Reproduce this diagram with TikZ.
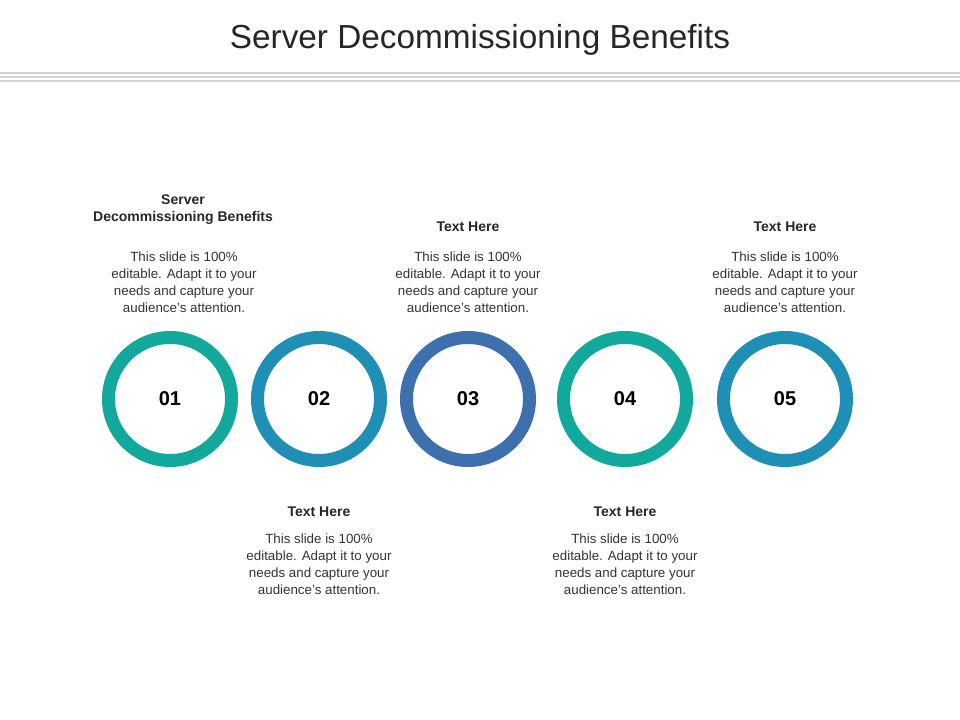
\documentclass[tikz,border=0pt]{standalone}
\usepackage{fontspec}
\setmainfont{Liberation Sans}
\begin{document}
\begin{tikzpicture}[x=0.75pt,y=-0.75pt,
 ring/.style={draw=#1,line width=9.75pt,circle,minimum size=123*0.75pt,inner sep=0pt,font=\fontsize{15}{18}\selectfont\bfseries},
 head/.style={font=\fontsize{10.5}{14}\selectfont\bfseries,text=black!85,align=center,anchor=base},
 body/.style={font=\fontsize{10}{12.75}\selectfont,text=black!80,align=center,anchor=north}]
\useasboundingbox (0,0) rectangle (960,720);
\node[font=\fontsize{25}{30}\selectfont,text=black!85,anchor=base] (title) at (480,49) {Server Decommissioning Benefits};
\foreach \yy in {73,77,81}{\draw[black!17,line width=1.6pt] (0,\yy) -- (960,\yy);}
\definecolor{cA}{HTML}{12A89B}\definecolor{cB}{HTML}{1F8FB5}\definecolor{cC}{HTML}{3F70AE}
\node[ring=cA] (c1) at (170,399) {01};
\node[ring=cB] (c2) at (319,399) {02};
\node[ring=cC] (c3) at (468,399) {03};
\node[ring=cA] (c4) at (625,399) {04};
\node[ring=cB] (c5) at (785,399) {05};
\node[head] (h1) at (183,222) {Server\\[-1pt]Decommissioning Benefits};
\node[body] (b1) at (184,247) {This slide is 100\%\\editable. Adapt it to your\\needs and capture your\\audience's attention.};
\node[head] (h3) at (468,232) {Text Here};
\node[body] (b3) at (468,247) {This slide is 100\%\\editable. Adapt it to your\\needs and capture your\\audience's attention.};
\node[head] (h5) at (785,232) {Text Here};
\node[body] (b5) at (785,247) {This slide is 100\%\\editable. Adapt it to your\\needs and capture your\\audience's attention.};
\node[head] (h2) at (319,516) {Text Here};
\node[body] (b2) at (319,529) {This slide is 100\%\\editable. Adapt it to your\\needs and capture your\\audience's attention.};
\node[head] (h4) at (625,516) {Text Here};
\node[body] (b4) at (625,529) {This slide is 100\%\\editable. Adapt it to your\\needs and capture your\\audience's attention.};
\end{tikzpicture}
\end{document}
